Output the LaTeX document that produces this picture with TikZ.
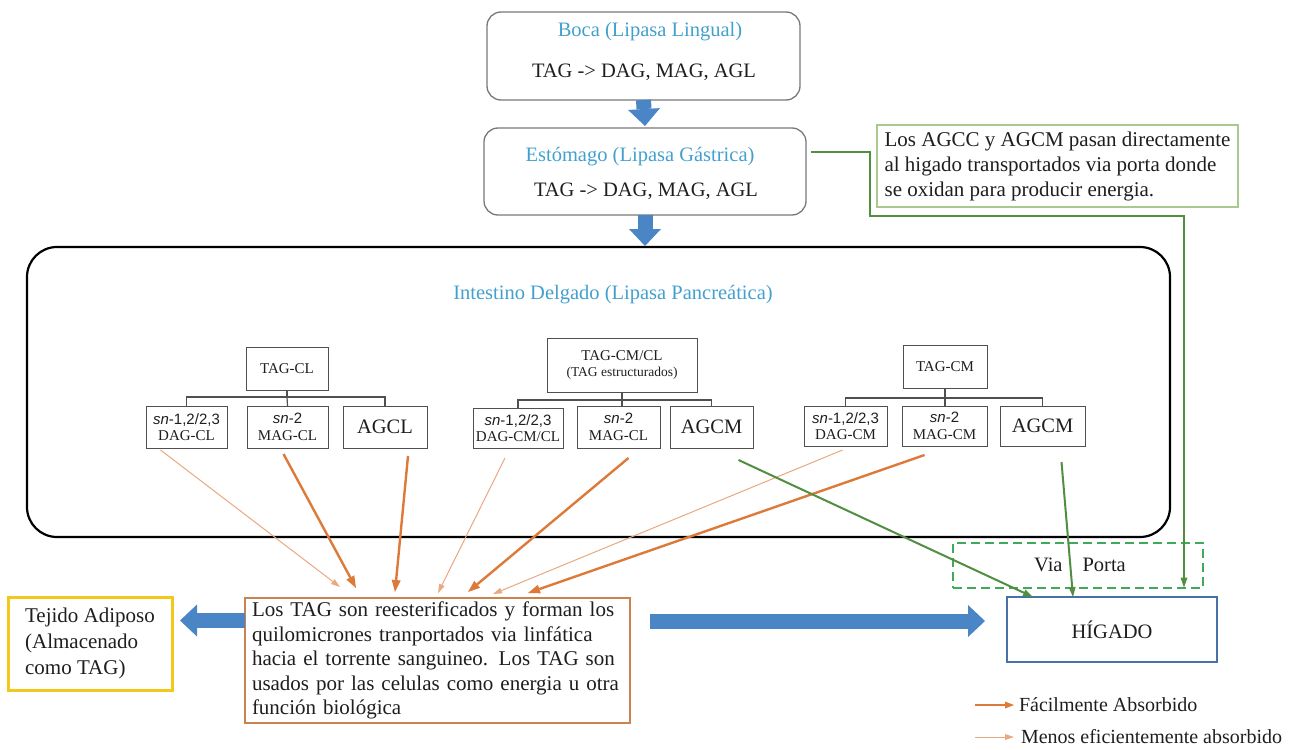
\documentclass[tikz,border=0pt]{standalone}
\usepackage{fontspec}
\setmainfont{Liberation Serif}
\newfontfamily\sansfam{Liberation Sans}
\usetikzlibrary{arrows.meta,calc}
\definecolor{titleblue}{RGB}{66,160,206}
\definecolor{blockblue}{RGB}{74,134,198}
\definecolor{thickor}{RGB}{221,122,58}
\definecolor{thinor}{RGB}{232,168,128}
\definecolor{orbox}{RGB}{200,131,78}
\definecolor{greenln}{RGB}{80,143,64}
\definecolor{dashgreen}{RGB}{64,170,90}
\definecolor{greenbox}{RGB}{170,201,143}
\definecolor{yellowbox}{RGB}{242,200,26}
\definecolor{liverblue}{RGB}{72,114,166}
\definecolor{treegray}{RGB}{80,80,80}
\definecolor{stagegray}{RGB}{120,120,120}
\definecolor{txt}{RGB}{30,30,30}
\newcommand\fszmain{\fontsize{20.5}{25}\selectfont}
\newcommand\fsztree{\fontsize{15}{16.5}\selectfont}
\newcommand\fszsmall{\fontsize{13.5}{15}\selectfont}
\begin{document}
\begin{tikzpicture}[x=1pt,y=-1pt,
  every node/.style={text=txt, inner sep=0pt, outer sep=0pt},
  stagebox/.style={draw=stagegray, line width=1.3pt, rounded corners=14pt},
  titletxt/.style={text=titleblue, font=\fszmain},
  bodytxt/.style={font=\fszmain},
  tbox/.style={draw=treegray, line width=1pt, font=\fsztree, align=center},
  tline/.style={draw=treegray, line width=1.2pt},
  blockarrow/.style={draw=blockblue, line width=15pt, -{Triangle[length=17pt,width=32pt,line width=0pt]}},
  thickarr/.style={draw=thickor, line width=2.4pt, -{Triangle[length=12pt,width=9pt,line width=0pt]}},
  thinarr/.style={draw=thinor, line width=1pt, -{Triangle[length=9pt,width=6pt,line width=0pt]}},
  greenarr/.style={draw=greenln, line width=2pt, -{Triangle[length=10pt,width=7pt,line width=0pt]}},
]
\useasboundingbox (0,0) rectangle (1313,749);

% stages
\node[stagebox, minimum width=313pt, minimum height=88pt] (boca) at (643.5,56) {};
\node[titletxt] (bocaT) at (650,32) {Boca (Lipasa Lingual)};
\node[bodytxt] (bocaB) at (644,72) {TAG -> DAG, MAG, AGL};

\node[stagebox, minimum width=322pt, minimum height=87pt] (estomago) at (645,171.5) {};
\node[titletxt] (estT) at (640,157) {Estómago (Lipasa Gástrica)};
\node[bodytxt] (estB) at (646,191) {TAG -> DAG, MAG, AGL};

\node[draw=black, line width=2.2pt, rounded corners=30pt, minimum width=1143pt, minimum height=290pt] (intestino) at (598.5,392) {};
\node[titletxt] (intT) at (613,295) {Intestino Delgado (Lipasa Pancreática)};

\draw[blockarrow] (boca.south) -- ($(estomago.north)+(0,-2)$);
\draw[blockarrow] (estomago.south) -- ($(estomago.south |- intestino.north)+(0,-1)$);

% left tree
\node[tbox, minimum width=82pt, minimum height=43pt] (tagcl) at (287,368.5) {TAG-CL};
\node[tbox, minimum width=81pt, minimum height=42pt] (dagcl) at (186.5,427) {{\sansfam\textit{sn}-1,2/2,3}\\DAG-CL};
\node[tbox, minimum width=81pt, minimum height=42pt] (magcl) at (287.5,427) {{\sansfam\textit{sn}-2}\\MAG-CL};
\node[tbox, minimum width=84pt, minimum height=42pt, font=\fszmain] (agcl) at (385,427) {AGCL};
\draw[tline] (tagcl.south) -- ++(0,7) coordinate (jl);
\draw[tline] (jl) -| (dagcl.north);
\draw[tline] (jl) -| (agcl.north);
\draw[tline] (jl) -- (magcl.north);

% middle tree
\node[tbox, minimum width=150pt, minimum height=54pt] (tagcmcl) at (622,365) {TAG-CM/CL\\{\fszsmall(TAG estructurados)}};
\node[tbox, minimum width=90pt, minimum height=40pt] (dagcmcl) at (518,428) {{\sansfam\textit{sn}-1,2/2,3}\\DAG-CM/CL};
\node[tbox, minimum width=83pt, minimum height=42pt] (magcl2) at (618.5,427) {{\sansfam\textit{sn}-2}\\MAG-CL};
\node[tbox, minimum width=83pt, minimum height=42pt, font=\fszmain] (agcm1) at (711.5,427) {AGCM};
\draw[tline] (tagcmcl.south) -- ++(0,8) coordinate (jm);
\draw[tline] (jm) -| (dagcmcl.north);
\draw[tline] (jm) -| (agcm1.north);
\draw[tline] (jm) -- (jm |- magcl2.north);

% right tree
\node[tbox, minimum width=84pt, minimum height=43pt] (tagcm) at (945,366.5) {TAG-CM};
\node[tbox, minimum width=83pt, minimum height=40pt] (dagcm) at (845.5,426) {{\sansfam\textit{sn}-1,2/2,3}\\DAG-CM};
\node[tbox, minimum width=85pt, minimum height=40pt] (magcm) at (944.5,426) {{\sansfam\textit{sn}-2}\\MAG-CM};
\node[tbox, minimum width=85pt, minimum height=40pt, font=\fszmain] (agcm2) at (1042.5,426) {AGCM};
\draw[tline] (tagcm.south) -- ++(0,10) coordinate (jr);
\draw[tline] (jr) -| (dagcm.north);
\draw[tline] (jr) -| (agcm2.north);
\draw[tline] (jr) -- (jr |- magcm.north);

% note box
\node[draw=greenbox, line width=1.5pt, minimum width=361pt, minimum height=82pt, align=left, font=\fontsize{21}{25}\selectfont] (nota) at (1057.5,166) {Los AGCC y AGCM pasan directamente\\al higado transportados via porta donde\\se oxidan para producir energia.};

% bottom boxes
\node[draw=orbox, line width=2pt, minimum width=385pt, minimum height=125pt, text width=371pt, align=left, font=\fontsize{21}{24.5}\selectfont] (tag) at (437.5,660.5) {Los TAG son reesterificados y forman los\\quilomicrones tranportados via linfática\\hacia el torrente sanguineo. Los TAG son\\usados por las celulas como energia u otra\\función biológica};
\node[draw=yellowbox, line width=3pt, minimum width=164pt, minimum height=93pt, align=left, font=\fontsize{21}{26}\selectfont] (tejido) at (90,643.5) {Tejido Adiposo\\(Almacenado\\como TAG)};
\node[draw=liverblue, line width=1.8pt, minimum width=210pt, minimum height=65pt, font=\fszmain] (higado) at (1112,629.5) {HÍGADO};
\node[draw=dashgreen, line width=2pt, dash pattern=on 9pt off 5pt, minimum width=250pt, minimum height=45pt] (via) at (1078,565) {};
\node[font=\fszmain] (viaT) at (1080,565) {Via\hspace{20pt}Porta};

\draw[blockarrow] ($(tag.west |- tejido.east)+(0,-23)$) -- ($(tejido.east)+(8,-23)$);
\draw[blockarrow] ($(tag.east)+(20,-39.5)$) -- ($(higado.west)+(-22,-8.5)$);

% orange arrows
\draw[thinarr]  ($(dagcl.south)+(-26,2)$)   -- ($(tag.north west)+(95,-11)$);
\draw[thickarr] ($(magcl.south)+(-4,6)$)    -- ($(tag.north west)+(111,-10)$);
\draw[thickarr] ($(agcl.south)+(23,8)$)     -- ($(tag.north west)+(150,-6)$);
\draw[thinarr]  ($(dagcmcl.south)+(-13,10)$) -- ($(tag.north west)+(193,-5)$);
\draw[thickarr] ($(magcl2.south)+(10,10)$)  -- ($(tag.north west)+(223,-6)$);
\draw[thinarr]  ($(dagcm.south)+(-3,4)$)    -- ($(tag.north west)+(248,-4)$);
\draw[thickarr] ($(magcm.south)+(-20,9)$)   -- ($(tag.north west)+(283,-5)$);

% green arrows
\draw[greenarr] ($(agcm1.south)+(27,12)$) -- ($(higado.north west)+(26,0)$);
\draw[greenarr] ($(agcm2.south)+(19,16)$) -- ($(higado.north west)+(66,0)$);
\draw[greenarr] ($(estomago.north east)+(5,24)$) -- ++(59,0) -- ++(0,64) -| ($(via.south east)+(-19,0)$);

% legend
\coordinate (l1s) at (975,705);
\coordinate (l2s) at (975,737);
\draw[thickarr, line width=1.8pt, -{Triangle[length=9pt,width=7pt,line width=0pt]}] (l1s) -- ++(39,0) coordinate (l1e);
\draw[thinarr] (l2s) -- ++(39,0) coordinate (l2e);
\node[anchor=west, font=\fontsize{20}{24}\selectfont] (leg1) at ($(l1e)+(5,0)$) {Fácilmente Absorbido};
\node[anchor=west, font=\fontsize{20}{24}\selectfont] (leg2) at ($(l2e)+(7,0)$) {Menos eficientemente absorbido};
\end{tikzpicture}
\end{document}
